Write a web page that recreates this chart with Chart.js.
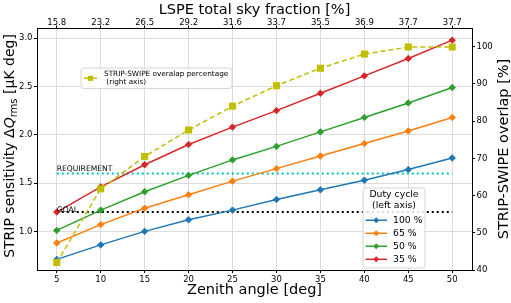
<!DOCTYPE html>
<html>
<head>
<meta charset="utf-8">
<script src="https://cdn.jsdelivr.net/npm/chart.js@4"></script>
<style>
  body { margin: 0; background: #fff; }
  canvas { display: block; }
</style>
</head>
<body>
<canvas id="chart" width="511" height="303"></canvas>
<script>
// Data
const zenith = [5, 10, 15, 20, 25, 30, 35, 40, 45, 50];
const skyFraction = ['15.8', '23.2', '26.5', '29.2', '31.6', '33.7', '35.5', '36.9', '37.7', '37.7'];
const duty100 = [0.71, 0.86, 1.00, 1.12, 1.22, 1.33, 1.43, 1.53, 1.64, 1.76];
const duty65 = [0.88, 1.07, 1.24, 1.38, 1.52, 1.65, 1.78, 1.91, 2.04, 2.18];
const duty50 = [1.01, 1.22, 1.41, 1.58, 1.74, 1.88, 2.03, 2.18, 2.33, 2.49];
const duty35 = [1.20, 1.46, 1.69, 1.90, 2.08, 2.25, 2.43, 2.61, 2.79, 2.98];
const overlap = [42.0, 61.8, 70.5, 77.6, 84.0, 89.5, 94.2, 98.0, 99.9, 99.9];
const requirementLevel = 1.6;
const goalLevel = 1.2;
const leftTicks = [1.0, 1.5, 2.0, 2.5, 3.0];
const rightTicks = [40, 50, 60, 70, 80, 90, 100];
const dutyLabels = ['100 %', '65 %', '50 %', '35 %'];

const FONT = 'DejaVu Sans';
Chart.defaults.font.family = FONT;
Chart.defaults.color = '#000';

const blue = '#1f77b4', orange = '#ff7f0e', green = '#2ca02c', red = '#d62728';
const olive = '#bfbf00', cyan = '#00bfbf';
const dutyColors = [blue, orange, green, red];

function pts(ys) {
    return zenith.map((x, i) => ({x: x, y: ys[i]}));
}

function dutySet(label, ys, color) {
    return {
        label: label, data: pts(ys), yAxisID: 'y',
        borderColor: color, backgroundColor: color, borderWidth: 1.5,
        pointStyle: 'rectRot', pointRadius: 3.2, pointBorderWidth: 1, pointHoverRadius: 3.2
    };
}

function levelSet(level, color) {
    return {
        data: [{x: zenith[0], y: level}, {x: zenith[zenith.length - 1], y: level}],
        yAxisID: 'y', borderColor: color, borderWidth: 2, borderDash: [2, 3],
        pointRadius: 0
    };
}

// diamond / square markers for the hand drawn legends
function marker(ctx, style, x, y, r, color) {
    ctx.fillStyle = color;
    ctx.beginPath();
    if (style === 'rect') {
        ctx.rect(x - r, y - r, 2 * r, 2 * r);
    } else {
        ctx.moveTo(x - r, y);
        ctx.lineTo(x, y - r);
        ctx.lineTo(x + r, y);
        ctx.lineTo(x, y + r);
        ctx.closePath();
    }
    ctx.fill();
}

function legendBox(ctx, x, y, w, h) {
    ctx.save();
    ctx.beginPath();
    ctx.roundRect(x, y, w, h, 3);
    ctx.fillStyle = 'rgba(255,255,255,0.85)';
    ctx.fill();
    ctx.strokeStyle = '#d4d4d4';
    ctx.lineWidth = 1;
    ctx.stroke();
    ctx.restore();
}

const extras = {
    id: 'extras',
    afterDraw(chart) {
        const ctx = chart.ctx;
        const xs = chart.scales.x, ys = chart.scales.y;
        const area = chart.chartArea;
        const cx = (area.left + area.right) / 2;

        // text labels on the level lines
        ctx.save();
        ctx.font = '7.6px ' + FONT;
        ctx.fillStyle = '#000';
        ctx.textBaseline = 'alphabetic';
        ctx.textAlign = 'left';
        ctx.fillText('REQUIREMENT', xs.getPixelForValue(zenith[0]), ys.getPixelForValue(requirementLevel) - 2);
        ctx.fillText('GOAL', xs.getPixelForValue(zenith[0]), ys.getPixelForValue(goalLevel) - 0.5);
        ctx.restore();

        // axis titles
        ctx.save();
        ctx.fillStyle = '#000';
        ctx.font = '14.5px ' + FONT;
        ctx.textAlign = 'center';
        ctx.textBaseline = 'alphabetic';
        ctx.fillText('LSPE total sky fraction [%]', cx, 14);
        ctx.fillText('Zenith angle [deg]', cx, 294);

        // right title, reading bottom to top
        ctx.save();
        ctx.translate(507.5, (area.top + area.bottom) / 2);
        ctx.rotate(-Math.PI / 2);
        ctx.fillText('STRIP-SWIPE overlap [%]', 0, 0);
        ctx.restore();

        // left title with subscript
        const big = '14px ' + FONT, italic = 'italic 14px ' + FONT, small = '10px ' + FONT;
        const parts = [
            ['STRIP sensitivity \u0394', big, 0],
            ['Q', italic, 0],
            ['rms', small, 3],
            [' [\u03bcK deg]', big, 0]
        ];
        let total = 0;
        parts.forEach(p => { ctx.font = p[1]; total += ctx.measureText(p[0]).width; });
        ctx.translate(14, 146);
        ctx.rotate(-Math.PI / 2);
        ctx.textAlign = 'left';
        let pos = -total / 2;
        parts.forEach(p => {
            ctx.font = p[1];
            ctx.fillText(p[0], pos, p[2]);
            pos += ctx.measureText(p[0]).width;
        });
        ctx.restore();

        // legend: overlap (right axis)
        ctx.save();
        legendBox(ctx, 81, 68, 151, 20.5);
        ctx.strokeStyle = olive;
        ctx.lineWidth = 1.5;
        ctx.beginPath();
        ctx.moveTo(84, 78.3);
        ctx.lineTo(97, 78.3);
        ctx.stroke();
        marker(ctx, 'rect', 90.5, 78.3, 2.6, olive);
        ctx.fillStyle = '#000';
        ctx.font = '7.3px ' + FONT;
        ctx.textBaseline = 'middle';
        ctx.textAlign = 'left';
        ctx.fillText('STRIP-SWIPE overalap percentage', 104, 74.5);
        ctx.fillText(' (right axis)', 104, 82);
        ctx.restore();

        // legend: duty cycle (left axis)
        ctx.save();
        legendBox(ctx, 363, 188, 62, 80);
        ctx.fillStyle = '#000';
        ctx.font = '9.3px ' + FONT;
        ctx.textBaseline = 'middle';
        ctx.textAlign = 'center';
        ctx.fillText('Duty cycle', 394, 194.5);
        ctx.fillText('(left axis)', 394, 206);
        const rows = [220.3, 233.3, 246.3, 259.3];
        ctx.textAlign = 'left';
        dutyLabels.forEach((lab, i) => {
            ctx.strokeStyle = dutyColors[i];
            ctx.lineWidth = 1.5;
            ctx.beginPath();
            ctx.moveTo(365.5, rows[i]);
            ctx.lineTo(387, rows[i]);
            ctx.stroke();
            marker(ctx, 'diamond', 376.2, rows[i], 3, dutyColors[i]);
            ctx.fillStyle = '#000';
            ctx.fillText(lab, 393, rows[i]);
        });
        ctx.restore();
    }
};

const tickFont = {size: 8.5, family: FONT};
const gridColor = '#dcdcdc';

new Chart(document.getElementById('chart'), {
    type: 'line',
    data: {
        datasets: [
            {
                label: 'overlap', data: pts(overlap), yAxisID: 'y2',
                borderColor: olive, backgroundColor: olive, borderWidth: 1.5, borderDash: [5, 3],
                pointStyle: 'rect', pointRadius: 5, pointBorderWidth: 0, pointHoverRadius: 5
            },
            dutySet(dutyLabels[0], duty100, blue),
            dutySet(dutyLabels[1], duty65, orange),
            dutySet(dutyLabels[2], duty50, green),
            dutySet(dutyLabels[3], duty35, red),
            levelSet(requirementLevel, cyan),
            levelSet(goalLevel, '#000')
        ]
    },
    options: {
        responsive: false,
        animation: false,
        layout: {padding: 0},
        plugins: {legend: {display: false}, tooltip: {enabled: false}},
        scales: {
            x: {
                type: 'linear', position: 'bottom', min: 2.75, max: 52.25,
                afterBuildTicks: s => { s.ticks = zenith.map(v => ({value: v})); },
                afterFit: s => { s.height = 33; },
                ticks: {font: tickFont, padding: 1.5, maxRotation: 0, callback: v => String(v)},
                grid: {color: gridColor, lineWidth: 1, tickColor: '#000', tickLength: 3},
                border: {color: '#000', width: 1}
            },
            x2: {
                type: 'linear', position: 'top', min: 2.75, max: 52.25,
                afterBuildTicks: s => { s.ticks = zenith.map(v => ({value: v})); },
                afterFit: s => { s.height = 28; },
                ticks: {font: tickFont, padding: -2.5, maxRotation: 0, callback: (v, i) => skyFraction[i]},
                grid: {drawOnChartArea: false, tickColor: '#000', tickLength: 2.5},
                border: {color: '#000', width: 1}
            },
            y: {
                type: 'linear', position: 'left', min: 0.6, max: 3.106,
                afterBuildTicks: s => { s.ticks = leftTicks.map(v => ({value: v})); },
                afterFit: s => { s.width = 37; },
                ticks: {font: tickFont, padding: 1.5, callback: v => v.toFixed(1)},
                grid: {color: gridColor, lineWidth: 1, tickColor: '#000', tickLength: 3},
                border: {color: '#000', width: 1}
            },
            y2: {
                type: 'linear', position: 'right', min: 40, max: 105,
                afterBuildTicks: s => { s.ticks = rightTicks.map(v => ({value: v})); },
                afterFit: s => { s.width = 39; },
                ticks: {font: tickFont, padding: 1.5, callback: v => String(v)},
                grid: {drawOnChartArea: false, tickColor: '#000', tickLength: 3},
                border: {color: '#000', width: 1}
            }
        }
    },
    plugins: [extras]
});
</script>
</body>
</html>
